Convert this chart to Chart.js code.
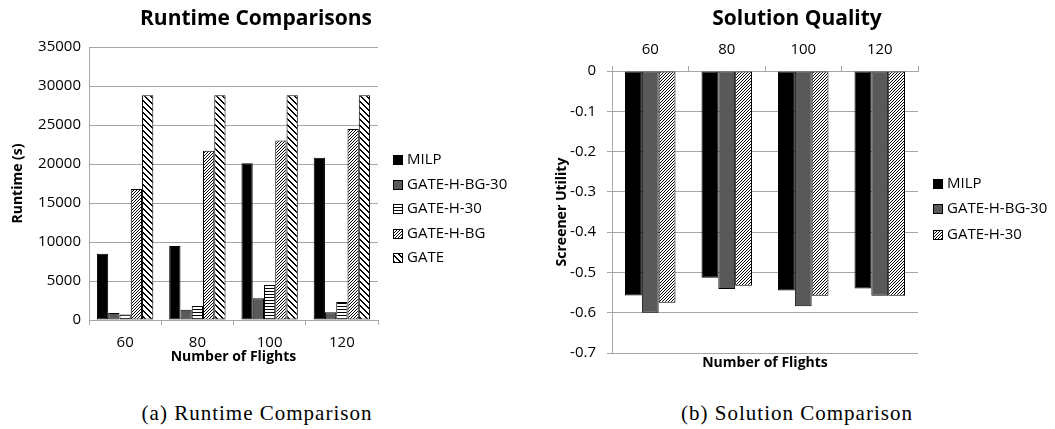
<!DOCTYPE html>
<html>
<head>
<meta charset="utf-8">
<script src="https://cdn.jsdelivr.net/npm/chart.js@4"></script>
<style>
  html, body { margin: 0; padding: 0; background: #fff; }
  body { width: 1055px; height: 429px; position: relative; overflow: hidden; }
  canvas { position: absolute; top: 0; }
  #runtimeChart { left: 0; }
  #qualityChart { left: 520px; }
  .caption {
    position: absolute; top: 401px; width: 400px; text-align: center;
    font-family: "Liberation Serif", "Times New Roman", serif; font-size: 21px;
    letter-spacing: 1px; line-height: 24px; color: #000; white-space: nowrap;
  }
</style>
</head>
<body>
<canvas id="runtimeChart" width="512" height="375"></canvas>
<canvas id="qualityChart" width="554" height="375"></canvas>
<div class="caption" style="left:57px">(a) Runtime Comparison</div>
<div class="caption" style="left:597px">(b) Solution Comparison</div>

<script>
// Data
const flights = ['60', '80', '100', '120'];

const runtimeLabels = ['MILP', 'GATE-H-BG-30', 'GATE-H-30', 'GATE-H-BG', 'GATE'];
const runtimeMILP = [8500, 9500, 20100, 20800];
const runtimeHBG30 = [900, 1300, 2800, 1000];
const runtimeH30 = [700, 1800, 4500, 2300];
const runtimeHBG = [16800, 21700, 23000, 24500];
const runtimeGATE = [28800, 28800, 28800, 28800];
const runtimeTicks = { min: 0, max: 35000, step: 5000 };

const qualityLabels = ['MILP', 'GATE-H-BG-30', 'GATE-H-30'];
const qualityMILP = [-0.557, -0.513, -0.545, -0.540];
const qualityHBG30 = [-0.600, -0.541, -0.584, -0.558];
const qualityH30 = [-0.575, -0.533, -0.558, -0.558];
const qualityTicks = { min: -0.7, max: 0, step: 0.1 };

const FONT = '"Open Sans", sans-serif';
const GRID = '#a6a6a6';

// small tiles used as bar fills
function makePattern(w, h, draw) {
  const c = document.createElement('canvas');
  c.width = w;
  c.height = h;
  const g = c.getContext('2d');
  g.fillStyle = '#fff';
  g.fillRect(0, 0, w, h);
  g.fillStyle = '#000';
  draw(g);
  return g.createPattern(c, 'repeat');
}

const hStripes = makePattern(4, 3, g => g.fillRect(0, 0, 4, 1));
const denseDiag = makePattern(3, 3, g => {
  for (let i = 0; i < 3; i++) g.fillRect(2 - i, i, 1, 1);
});
const wideDiag = makePattern(6, 6, g => {
  for (let i = 0; i < 6; i++) {
    g.fillRect(i, i, 1, 1);
    g.fillRect((i + 1) % 6, i, 1, 1);
  }
});

// legend drawn beside the plot, like the Excel original
const sideLegend = {
  id: 'sideLegend',
  afterDraw(chart, args, opts) {
    const ctx = chart.ctx;
    ctx.save();
    ctx.font = '15px ' + FONT;
    ctx.textBaseline = 'middle';
    ctx.textAlign = 'left';
    chart.data.datasets.forEach((ds, i) => {
      const y = Math.round(opts.top + i * opts.step);
      ctx.fillStyle = ds.backgroundColor;
      ctx.fillRect(opts.left, y - 5, 10, 10);
      ctx.strokeStyle = '#000';
      ctx.lineWidth = 1;
      ctx.strokeRect(opts.left + 0.5, y - 4.5, 9, 9);
      ctx.fillStyle = '#000';
      ctx.fillText(ds.label, opts.left + 14, y);
    });
    ctx.restore();
  }
};

function barSet(label, data, fill) {
  return {
    label: label,
    data: data,
    backgroundColor: fill,
    borderColor: '#000',
    borderWidth: 1,
    borderSkipped: false
  };
}

// empty right-hand axis that only keeps room for the legend,
// so the chart title stays centred on the whole canvas
function spacerAxis(width) {
  return {
    type: 'linear',
    position: 'right',
    grid: { display: false },
    border: { display: false },
    ticks: { display: false },
    afterFit: s => { s.width = width; }
  };
}

Chart.defaults.font.family = FONT;
Chart.defaults.color = '#000';

new Chart(document.getElementById('runtimeChart'), {
  type: 'bar',
  data: {
    labels: flights,
    datasets: [
      barSet(runtimeLabels[0], runtimeMILP, '#000'),
      barSet(runtimeLabels[1], runtimeHBG30, '#595959'),
      barSet(runtimeLabels[2], runtimeH30, hStripes),
      barSet(runtimeLabels[3], runtimeHBG, denseDiag),
      barSet(runtimeLabels[4], runtimeGATE, wideDiag)
    ]
  },
  options: {
    responsive: false,
    animation: false,
    layout: { padding: 0 },
    datasets: { bar: { categoryPercentage: 0.78, barPercentage: 1.0 } },
    plugins: {
      legend: { display: false },
      tooltip: { enabled: false },
      title: {
        display: true,
        text: 'Runtime Comparisons',
        font: { size: 21, weight: 'bold' },
        color: '#000',
        padding: { top: 6.4, bottom: 15.4 }
      },
      sideLegend: { left: 393, top: 160, step: 24.5 }
    },
    scales: {
      x: {
        grid: { drawOnChartArea: false, color: GRID, tickLength: 5, offset: true },
        border: { color: GRID },
        ticks: { font: { size: 15 }, padding: 8.5 },
        title: {
          display: true,
          text: 'Number of Flights',
          font: { size: 14, weight: 'bold' },
          padding: { top: 0, bottom: 9.6 }
        },
        afterFit: s => { s.height = 55; }
      },
      y: {
        min: runtimeTicks.min,
        max: runtimeTicks.max,
        grid: { color: GRID, drawTicks: false },
        border: { color: GRID },
        ticks: {
          stepSize: runtimeTicks.step,
          font: { size: 15 },
          padding: 8,
          callback: v => String(v)
        },
        title: {
          display: true,
          text: 'Runtime (s)',
          font: { size: 14, weight: 'bold' },
          padding: { top: 10, bottom: 0 }
        },
        afterFit: s => { s.width = 89; }
      },
      legendRoom: spacerAxis(134)
    }
  },
  plugins: [sideLegend]
});

new Chart(document.getElementById('qualityChart'), {
  type: 'bar',
  data: {
    labels: flights,
    datasets: [
      barSet(qualityLabels[0], qualityMILP, '#000'),
      barSet(qualityLabels[1], qualityHBG30, '#595959'),
      barSet(qualityLabels[2], qualityH30, denseDiag)
    ]
  },
  options: {
    responsive: false,
    animation: false,
    layout: { padding: 0 },
    datasets: { bar: { categoryPercentage: 0.66, barPercentage: 1.0 } },
    plugins: {
      legend: { display: false },
      tooltip: { enabled: false },
      title: {
        display: true,
        text: 'Solution Quality',
        font: { size: 21, weight: 'bold' },
        color: '#000',
        padding: { top: 6.4, bottom: 0 }
      },
      sideLegend: { left: 413, top: 183.5, step: 25.5 }
    },
    scales: {
      x: {
        position: 'top',
        grid: { drawOnChartArea: false, color: GRID, tickLength: 5, offset: true },
        border: { color: GRID },
        ticks: { font: { size: 15 }, padding: 7.7 },
        afterFit: s => { s.height = 39.4; }
      },
      xTitle: {
        type: 'category',
        position: 'bottom',
        grid: { display: false },
        border: { display: false },
        ticks: { display: false },
        title: {
          display: true,
          text: 'Number of Flights',
          font: { size: 14, weight: 'bold' },
          padding: { top: 0, bottom: 3.6 }
        },
        afterFit: s => { s.height = 22; }
      },
      y: {
        min: qualityTicks.min,
        max: qualityTicks.max,
        grid: { color: GRID, tickLength: 5 },
        border: { color: GRID },
        ticks: { stepSize: qualityTicks.step, font: { size: 15 }, padding: 11 },
        title: {
          display: true,
          text: 'Screener Utility',
          font: { size: 14, weight: 'bold' },
          padding: { top: 34, bottom: 0 }
        },
        afterFit: s => { s.width = 92; }
      },
      legendRoom: spacerAxis(156)
    }
  },
  plugins: [sideLegend]
});
</script>
</body>
</html>
